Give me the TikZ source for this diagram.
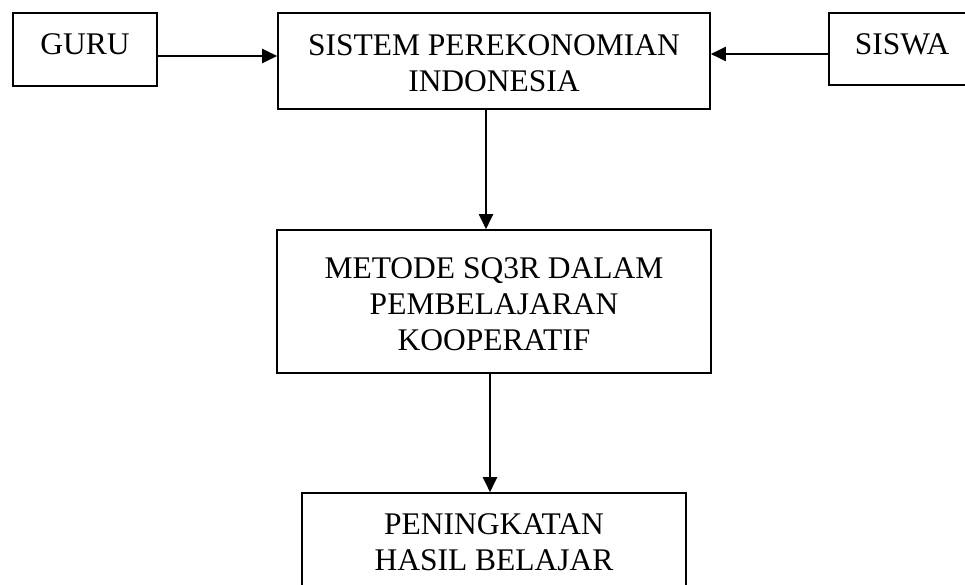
\documentclass[tikz,border=0pt]{standalone}
\usepackage{fontspec}
\setmainfont{Liberation Serif}
\usetikzlibrary{arrows.meta}
\begin{document}
\begin{tikzpicture}[x=1pt,y=-1pt,
  box/.style={draw=black,line width=1.6pt,rectangle,inner sep=0pt},
  txt/.style={anchor=north,inner sep=0pt,align=center,font={\fontsize{31.5}{36}\selectfont}},
  arr/.style={line width=2pt,-{Triangle[length=15pt,width=14pt]}}]
\useasboundingbox (0,0) rectangle (965,585);
\clip (0,0) rectangle (965,585);
\fill[white] (0,0) rectangle (965,585);
% boxes
\node[box,minimum width=144pt,minimum height=73pt] (guru) at (85,49.5) {};
\node[box,minimum width=432pt,minimum height=96pt] (top) at (494,61) {};
\node[box,minimum width=146pt,minimum height=72pt] (siswa) at (902,49) {};
\node[box,minimum width=434pt,minimum height=143pt] (mid) at (494,301.5) {};
\node[box,minimum width=384pt,minimum height=117pt] (bot) at (494,551.5) {};
% texts
\node[txt] (tguru) at (85,33) {GURU};
\node[txt] (tsiswa) at (902,33) {SISWA};
\node[txt] (ttop) at (494,34.5) {SISTEM PEREKONOMIAN\\INDONESIA};
\node[txt] (tmid) at (494,257.5) {METODE SQ3R DALAM\\PEMBELAJARAN\\KOOPERATIF};
\node[txt] (tbot) at (494,513.5) {PENINGKATAN\\HASIL BELAJAR};
% connectors
\coordinate (gy) at (0,56);
\coordinate (sy) at (0,54);
\draw[arr] (guru.east |- gy) -- (top.west |- gy);
\draw[arr] (siswa.west |- sy) -- (top.east |- sy);
\coordinate (c1) at (486,0);
\coordinate (c2) at (490,0);
\draw[arr] (top.south -| c1) -- (mid.north -| c1);
\draw[arr] (mid.south -| c2) -- (bot.north -| c2);
\end{tikzpicture}
\end{document}
